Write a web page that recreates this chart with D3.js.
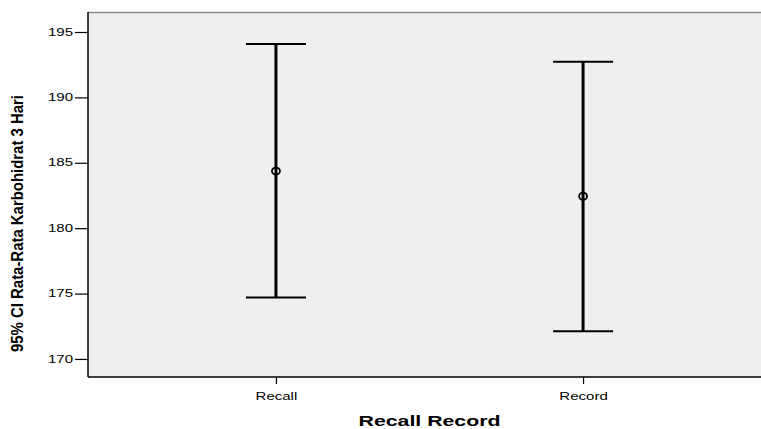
<!DOCTYPE html>
<html>
<head>
<meta charset="utf-8">
<script src="https://cdn.jsdelivr.net/npm/d3@7"></script>
<style>
  html, body { margin: 0; padding: 0; background: #ffffff; }
  svg { display: block; }
  text { font-family: "Liberation Sans", Arial, sans-serif; fill: #000; }
</style>
</head>
<body>
<svg id="chart" width="761" height="429"></svg>
<script>
// Groups and their 95% confidence intervals for mean 3-day carbohydrate intake
const categories = ["Recall", "Record"];
const means = [184.37, 182.44];
const lowerCI = [174.69, 172.12];
const upperCI = [194.08, 192.73];
const yTicks = [170, 175, 180, 185, 190, 195];
const xTitle = "Recall Record";
const yTitle = "95% CI Rata-Rata Karbohidrat 3 Hari";

const svg = d3.select("#chart");
const plot = { left: 88, top: 12, right: 771, bottom: 377 };

// widen text horizontally by a factor, keeping its anchor
function widen(sel, factor) {
  sel.each(function () {
    const w = this.getComputedTextLength();
    d3.select(this)
      .attr("textLength", w * factor)
      .attr("lengthAdjust", "spacingAndGlyphs");
  });
}

const x = d3.scalePoint()
  .domain(categories)
  .range([plot.left, plot.right])
  .padding(0.612);

const y = d3.scaleLinear()
  .domain([168.62, 196.53])
  .range([plot.bottom, plot.top]);

// plot background
svg.append("rect")
  .attr("x", plot.left).attr("y", plot.top)
  .attr("width", plot.right - plot.left).attr("height", plot.bottom - plot.top)
  .attr("fill", "#efefef");

// top frame line
svg.append("line")
  .attr("x1", plot.left).attr("x2", plot.right)
  .attr("y1", plot.top + 0.5).attr("y2", plot.top + 0.5)
  .attr("stroke", "#8c8c8c").attr("stroke-width", 1.5);

// y axis
const yAxis = d3.axisLeft(y).tickValues(yTicks).tickSize(13).tickPadding(2);
const gy = svg.append("g")
  .attr("transform", `translate(${plot.left},0)`)
  .call(yAxis);
gy.select(".domain").remove();
gy.selectAll(".tick line").attr("stroke", "#000").attr("stroke-width", 1.2);
gy.selectAll(".tick text")
  .attr("font-size", 10).attr("fill", "#000")
  .attr("font-family", "'Liberation Sans', Arial, sans-serif")
  .call(widen, 1.5);
svg.append("line")
  .attr("x1", plot.left).attr("x2", plot.left)
  .attr("y1", plot.top).attr("y2", plot.bottom)
  .attr("stroke", "#000").attr("stroke-width", 1.5);

// x axis
const xAxis = d3.axisBottom(x).tickSize(7).tickPadding(9);
const gx = svg.append("g")
  .attr("transform", `translate(0,${plot.bottom})`)
  .call(xAxis);
gx.select(".domain").remove();
gx.selectAll(".tick line").attr("stroke", "#000").attr("stroke-width", 1.2);
gx.selectAll(".tick text")
  .attr("font-size", 10).attr("fill", "#000")
  .attr("font-family", "'Liberation Sans', Arial, sans-serif")
  .call(widen, 1.5);
svg.append("line")
  .attr("x1", plot.left).attr("x2", plot.right)
  .attr("y1", plot.bottom).attr("y2", plot.bottom)
  .attr("stroke", "#000").attr("stroke-width", 1.5);

// axis titles
svg.append("text")
  .attr("x", x("Recall") + (x("Record") - x("Recall")) / 2)
  .attr("y", 426)
  .attr("text-anchor", "middle")
  .attr("font-size", 14).attr("font-weight", "bold")
  .text(xTitle)
  .call(widen, 1.52);

svg.append("text")
  .attr("transform", `translate(23,${(95 + 352) / 2}) rotate(-90)`)
  .attr("text-anchor", "middle")
  .attr("font-size", 16).attr("font-weight", "bold")
  .attr("textLength", 257).attr("lengthAdjust", "spacingAndGlyphs")
  .text(yTitle);

// error bars
const capHalf = 30;
const bars = svg.append("g").selectAll("g")
  .data(categories.map((c, i) => ({ c, mean: means[i], lo: lowerCI[i], hi: upperCI[i] })))
  .join("g");

bars.append("line")
  .attr("x1", d => x(d.c)).attr("x2", d => x(d.c))
  .attr("y1", d => y(d.hi)).attr("y2", d => y(d.lo))
  .attr("stroke", "#000").attr("stroke-width", 3);

bars.append("line")
  .attr("x1", d => x(d.c) - capHalf).attr("x2", d => x(d.c) + capHalf)
  .attr("y1", d => y(d.hi)).attr("y2", d => y(d.hi))
  .attr("stroke", "#000").attr("stroke-width", 2);

bars.append("line")
  .attr("x1", d => x(d.c) - capHalf).attr("x2", d => x(d.c) + capHalf)
  .attr("y1", d => y(d.lo)).attr("y2", d => y(d.lo))
  .attr("stroke", "#000").attr("stroke-width", 2);

bars.append("ellipse")
  .attr("cx", d => x(d.c)).attr("cy", d => y(d.mean))
  .attr("rx", 4).attr("ry", 3.5)
  .attr("fill", "none").attr("stroke", "#000").attr("stroke-width", 1.8);
</script>
</body>
</html>
